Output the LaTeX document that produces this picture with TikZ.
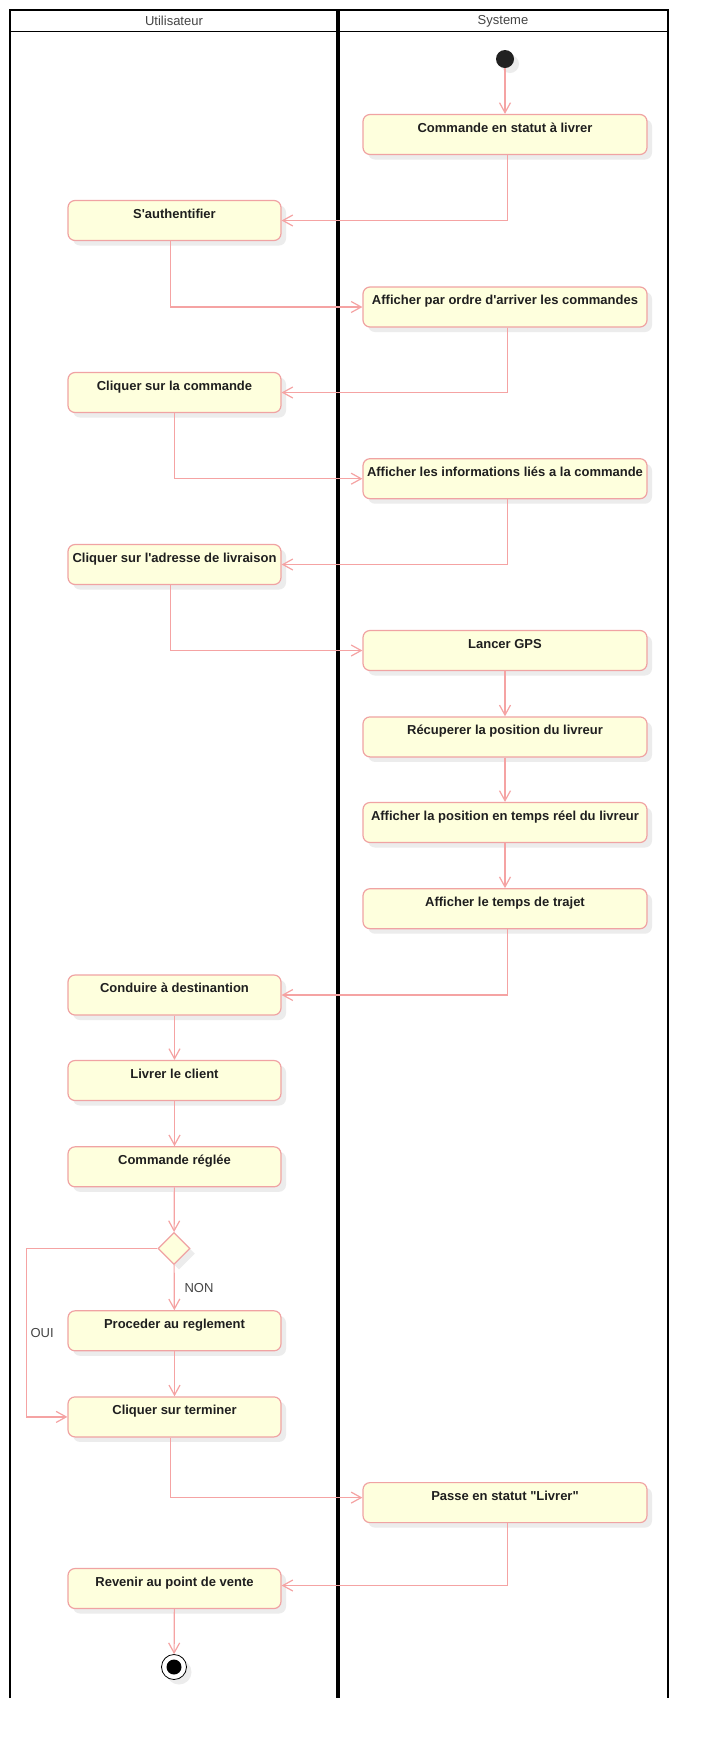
\documentclass[tikz,border=0pt]{standalone}
\usepackage{fontspec}
\setmainfont{Liberation Sans}
\usetikzlibrary{arrows.meta,shadows,shapes.geometric}
\definecolor{actfill}{HTML}{FEFFDD}
\definecolor{actline}{HTML}{F0A3A3}
\definecolor{flowline}{HTML}{F5A3A3}
\definecolor{shadowgray}{HTML}{ECECEC}
\definecolor{lanetext}{HTML}{444444}
\begin{document}
\begin{tikzpicture}[x=1pt,y=-1pt,
  softshadow/.style={drop shadow={shadow xshift=5pt, shadow yshift=-5pt, fill=shadowgray, opacity=1}},
  act/.style={draw=actline, fill=actfill, line width=1.2pt, rounded corners=7pt,
    inner sep=0pt, text height=17.5pt, text depth=22.5pt,
    font=\bfseries\fontsize{13}{15}\selectfont, text=black!88, softshadow},
  lact/.style={act, minimum width=213pt},
  ract/.style={act, minimum width=284pt},
  flow/.style={draw=flowline, line width=1.2pt, -{Straight Barb[length=10pt,width=11pt]}},
  lanehead/.style={font=\fontsize{13}{15}\selectfont, text=lanetext, inner sep=0pt},
  guard/.style={font=\fontsize{13}{15}\selectfont, text=lanetext, inner sep=0pt},
  decision/.style={diamond, aspect=1, draw=actline, fill=actfill, line width=1.2pt,
    minimum size=32pt, inner sep=0pt, softshadow}
]
% page
\fill[white] (0,0) rectangle (708,1738);
\useasboundingbox (0,0) rectangle (708,1738);

% swimlanes
\draw[line width=2pt] (10,1698) -- (10,10) -- (668,10) -- (668,1698);
\draw[line width=1.8pt] (10,31.5) -- (668,31.5);
\draw[line width=3.5pt] (338,10) -- (338,1698);
\node[lanehead] (laneU) at (174,21) {Utilisateur};
\node[lanehead] (laneS) at (503,21) {Systeme};

% start
\node[circle, fill=black!87, minimum size=18pt, inner sep=0pt, softshadow] (start) at (505,59) {};

% activities
\node[ract] (c1)    at (505,134.5)  {Commande en statut à livrer};
\node[lact] (auth)  at (174.5,220.5) {S\textquotesingle authentifier};
\node[ract] (aff)   at (505,307)    {Afficher par ordre d\textquotesingle arriver les commandes};
\node[lact] (cliq)  at (174.5,392.5) {Cliquer sur la commande};
\node[ract] (info)  at (505,478.7)  {Afficher les informations liés a la commande};
\node[lact] (adr)   at (174.5,564.5) {Cliquer sur l\textquotesingle adresse de livraison};
\node[ract] (gps)   at (505,650.5)  {Lancer GPS};
\node[ract] (recup) at (505,736.9)  {Récuperer la position du livreur};
\node[ract] (pos)   at (505,822.5)  {Afficher la position en temps réel du livreur};
\node[ract] (traj)  at (505,908.7)  {Afficher le temps de trajet};
\node[lact] (cond)  at (174.5,995)   {Conduire à destinantion};
\node[lact] (livr)  at (174.5,1080.5) {Livrer le client};
\node[lact] (regl)  at (174.5,1166.8) {Commande réglée};
\node[decision] (dec) at (174,1248.5) {};
\node[lact] (proc)  at (174.5,1330.8) {Proceder au reglement};
\node[lact] (term)  at (174.5,1416.9) {Cliquer sur terminer};
\node[ract] (passe) at (505,1502.6) {Passe en statut \textquotedbl Livrer\textquotedbl};
\node[lact] (rev)   at (174.5,1588.5) {Revenir au point de vente};

% end
\node[circle, draw=black, line width=0.8pt, fill=white, minimum size=25pt, inner sep=0pt, softshadow] (endO) at (174,1667) {};
\node[circle, fill=black, minimum size=15pt, inner sep=0pt] (endDot) at (endO) {};

\coordinate (ouiBend) at (26.7,1248.5);

% flows
\draw[flow] (start) -- (c1);
\draw[flow] ([xshift=2.5pt]c1.south) |- (auth.east);
\draw[flow] ([xshift=-4pt]auth.south) |- (aff.west);
\draw[flow] ([xshift=2.5pt]aff.south) |- (cliq.east);
\draw[flow] (cliq.south) |- (info.west);
\draw[flow] ([xshift=2.5pt]info.south) |- (adr.east);
\draw[flow] ([xshift=-4pt]adr.south) |- (gps.west);
\draw[flow] (gps) -- (recup);
\draw[flow] (recup) -- (pos);
\draw[flow] (pos) -- (traj);
\draw[flow] ([xshift=2.5pt]traj.south) |- (cond.east);
\draw[flow] (cond) -- (livr);
\draw[flow] (livr) -- (regl);
\draw[flow] (regl) -- (dec);
\draw[flow] (dec) -- node[guard, pos=0.5, anchor=west, xshift=9.7pt] {NON} (proc);
\draw[flow] (dec.west) -- (ouiBend) |- node[guard, pos=0.25, anchor=west, xshift=3.3pt] {OUI} (term.west);
\draw[flow] (proc) -- (term);
\draw[flow] ([xshift=-4pt]term.south) |- ([yshift=5pt]passe.west);
\draw[flow] ([xshift=2.5pt]passe.south) |- ([yshift=3pt]rev.east);
\draw[flow] (rev) -- (endO);
\end{tikzpicture}
\end{document}
